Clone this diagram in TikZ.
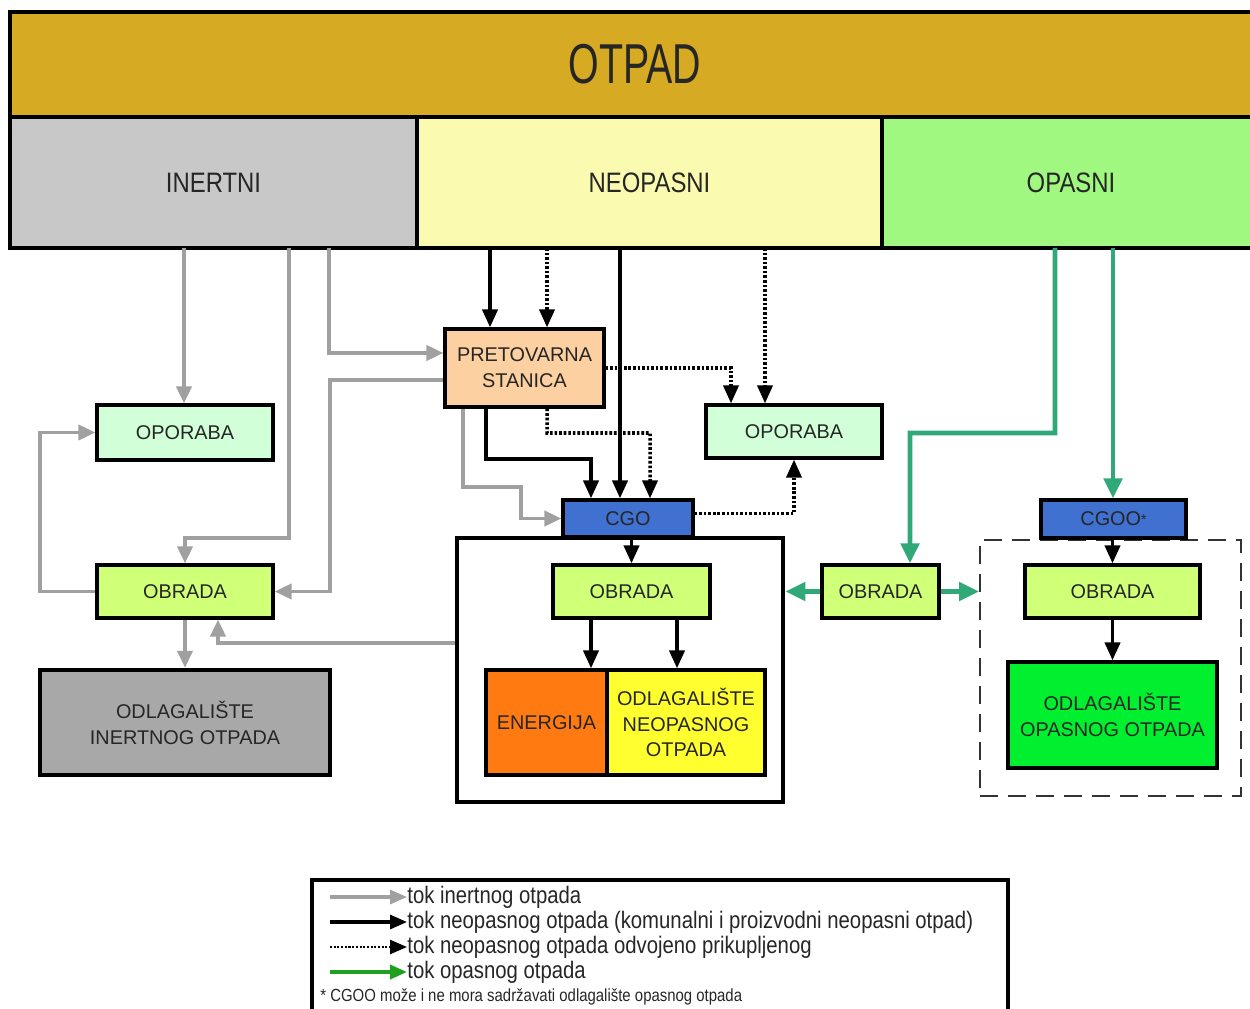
\documentclass[tikz,border=0pt]{standalone}
\usepackage{fontspec}
\setmainfont{Liberation Sans}
\newfontfamily\headfont[FakeStretch=0.7]{Liberation Sans}
\newfontfamily\narrowfont[FakeStretch=0.85]{Liberation Sans}
\usetikzlibrary{positioning}
\usetikzlibrary{arrows.meta}

\definecolor{otpadgold}{HTML}{D6AA22}
\definecolor{inertgray}{HTML}{C8C8C8}
\definecolor{neoyellow}{HTML}{FAFAB0}
\definecolor{opasgreen}{HTML}{A0F880}
\definecolor{mint}{HTML}{D0FFD8}
\definecolor{lime}{HTML}{D0FF78}
\definecolor{peach}{HTML}{FCD0A0}
\definecolor{cgoblue}{HTML}{4070D0}
\definecolor{energyorange}{HTML}{FF7A10}
\definecolor{dumpyellow}{HTML}{FFFF30}
\definecolor{dumpgreen}{HTML}{00F030}
\definecolor{dumpgray}{HTML}{A8A8A8}
\definecolor{flowgray}{HTML}{A0A0A0}
\definecolor{flowteal}{HTML}{30A878}
\definecolor{leggreen}{HTML}{20A020}

\begin{document}
\begin{tikzpicture}[x=0.2mm, y=-0.2mm,
  box/.style={draw, line width=1.8pt, inner sep=0pt, align=center, text=black!85,
    font=\fontsize{11.3}{14.7}\selectfont},
  head/.style={draw, line width=2pt, inner sep=0pt, text=black!85},
  inert/.style={draw=flowgray, line width=2.2pt, -{Triangle[length=3.4mm,width=3mm]}},
  neo/.style={draw=black, line width=2.2pt, -{Triangle[length=3.6mm,width=3mm]}},
  sep/.style={draw=black, line width=2pt, dash pattern=on 1.5pt off 1.1pt,
    -{Triangle[length=3.6mm,width=3mm]}},
  opas/.style={draw=flowteal, line width=2.8pt, -{Triangle[length=4mm,width=3.6mm]}},
  legtext/.style={inner sep=0pt, text=black!85, font=\narrowfont\fontsize{13.6}{15}\selectfont},
  legarrow/.style={line width=1.8pt, -{Triangle[length=3.4mm,width=2.8mm]}},
  node distance=5mm]
\useasboundingbox (0,0) rectangle (1250,1009);

\node(otpad)[head, fill=otpadgold, minimum width=250mm, minimum height=21mm,
  font=\headfont\fontsize{32}{36}\selectfont] at (635,64.5) {OTPAD};
\node(inertni)[head, fill=inertgray, minimum width=81.4mm, minimum height=26.2mm,
  font=\narrowfont\fontsize{16}{18}\selectfont] at (213.5,182.5) {INERTNI};
\node(neopasni)[head, fill=neoyellow, minimum width=93mm, minimum height=26.2mm,
  font=\narrowfont\fontsize{16}{18}\selectfont] at (649.5,182.5) {NEOPASNI};
\node(opasni)[head, fill=opasgreen, minimum width=75.6mm, minimum height=26.2mm,
  font=\narrowfont\fontsize{16}{18}\selectfont] at (1071,182.5) {OPASNI};

\node(bigbox)[draw, line width=2.8pt, minimum width=65.2mm, minimum height=52.8mm] at (620,670) {};
\node(dashbox)[draw=black!80, line width=1.1pt, dash pattern=on 3.6mm off 2mm,
  minimum width=52.2mm, minimum height=51.2mm] at (1110.5,668) {};

\node(oporabaL)[box, fill=mint, minimum width=35.2mm, minimum height=11mm] at (185,432.5) {OPORABA};
\node(obradaL)[box, fill=lime, minimum width=35.2mm, minimum height=10.6mm] at (185,591.5) {OBRADA};
\node(odlagInert)[box, fill=dumpgray, line width=2.5pt, minimum width=58mm, minimum height=21mm]
  at (185,722.5) {ODLAGALIŠTE\\INERTNOG OTPADA};

\node(pretovarna)[box, fill=peach, minimum width=31.8mm, minimum height=15.6mm]
  at (524.5,368) {PRETOVARNA\\STANICA};
\node(oporabaM)[box, fill=mint, minimum width=35.2mm, minimum height=10.6mm] at (794,431.5) {OPORABA};
\node(cgo)[box, fill=cgoblue, minimum width=26mm, minimum height=7.4mm] at (628,518.5) {CGO};
\node(obradaM)[box, fill=lime, minimum width=31.4mm, minimum height=10.6mm] at (631.5,591.5) {OBRADA};
\node(energija)[box, fill=energyorange, minimum width=24.2mm, minimum height=21mm] at (546.5,722.5) {ENERGIJA};
\node(odlagNeo)[box, fill=dumpyellow, minimum width=31.6mm, minimum height=21mm]
  at (686,722.5) {ODLAGALIŠTE\\NEOPASNOG\\OTPADA};

\node(obradaR)[box, fill=lime, minimum width=23.4mm, minimum height=10.6mm] at (880.5,591.5) {OBRADA};
\node(cgoo)[box, fill=cgoblue, minimum width=29mm, minimum height=7.6mm]
  at (1113.5,519) {CGOO\raisebox{0.1ex}{\footnotesize *}};
\node(obradaRR)[box, fill=lime, minimum width=35mm, minimum height=10.6mm] at (1112.5,591.5) {OBRADA};
\node(odlagOpas)[box, fill=dumpgreen, minimum width=41.8mm, minimum height=21.2mm]
  at (1112.5,715) {ODLAGALIŠTE\\OPASNOG OTPADA};

\coordinate (i1) at (184,248);
\coordinate (i2) at (289,248);
\coordinate (i3) at (329,248);
\coordinate (n1) at (490,248);
\coordinate (n2) at (547,248);
\coordinate (n3) at (620,248);
\coordinate (n4) at (765,248);
\coordinate (o1) at (1055,248);
\coordinate (o2) at (1113,248);

% inertni
\draw[inert] (i1) -- (i1 |- oporabaL.north);
\draw[inert] (i2) -- (289,538) -| (obradaL.north);
\draw[inert] (i3) |- ([yshift=3mm]pretovarna.west);
\draw[inert] ([yshift=-2.4mm]pretovarna.west) -| (330,591.5) -- (obradaL.east);
\draw[inert] (obradaL.west) -| (40,432.5) -- (oporabaL.west);
\draw[inert] (obradaL.south) -- (odlagInert.north);
\draw[inert] ([yshift=5.4mm]bigbox.west) -| ([xshift=6.6mm]obradaL.south);
\draw[inert] ([xshift=-12.3mm]pretovarna.south) |- (521,487) |- (cgo.west);

% neopasni
\draw[neo] (n1) -- (n1 |- pretovarna.north);
\draw[sep] (n2) -- (n2 |- pretovarna.north);
\draw[neo] (n3) -- (n3 |- cgo.north);
\draw[sep] (n4) -- (n4 |- oporabaM.north);
\draw[sep] (pretovarna.east) -| ([xshift=-12.6mm]oporabaM.north);
\draw[neo] ([xshift=-7.7mm]pretovarna.south) |- (591,459) -- ([xshift=-7.4mm]cgo.north);
\draw[sep] ([xshift=4.5mm]pretovarna.south) |- (650,433) -- ([xshift=4.4mm]cgo.north);
\draw[sep] ([yshift=1mm]cgo.east) -| (oporabaM.south);
\draw[neo] (cgo.south -| obradaM.north) -- (obradaM.north);
\draw[neo] ([xshift=-8.1mm]obradaM.south) -- ([xshift=-8.1mm]obradaM.south |- energija.north);
\draw[neo] ([xshift=9.1mm]obradaM.south) -- ([xshift=9.1mm]obradaM.south |- odlagNeo.north);

% opasni
\draw[opas] (o1) |- (910,433) -- ([xshift=5.9mm]obradaR.north);
\draw[opas] (o2) -- (o2 |- cgoo.north);
\draw[opas] (obradaR.west) -- (obradaR.west -| bigbox.east);
\draw[opas] (obradaR.east) -- (obradaR.east -| dashbox.west);
\draw[neo] (cgoo.south -| obradaRR.north) -- (obradaRR.north);
\draw[neo] (obradaRR.south) -- (odlagOpas.north);

% legenda
\node(legend)[draw, line width=1.8pt, minimum width=139.2mm, minimum height=26.4mm] at (660,946) {};
\node(leg1)[legtext, anchor=west] at (407,897) {tok inertnog otpada};
\node(leg2)[legtext, below=of leg1.west, anchor=west] {tok neopasnog otpada (komunalni i proizvodni neopasni otpad)};
\node(leg3)[legtext, below=of leg2.west, anchor=west] {tok neopasnog otpada odvojeno prikupljenog};
\node(leg4)[legtext, below=of leg3.west, anchor=west] {tok opasnog otpada};
\node(note)[inner sep=0pt, anchor=west, text=black!85, font=\narrowfont\fontsize{10}{11}\selectfont]
  at (320,997) {* CGOO može i ne mora sadržavati odlagalište opasnog otpada};

\draw[legarrow, draw=flowgray] ([xshift=-15.4mm]leg1.west) -- (leg1.west);
\draw[legarrow, draw=black] ([xshift=-15.4mm]leg2.west) -- (leg2.west);
\draw[legarrow, draw=black, line width=1.4pt, dash pattern=on 1.2pt off 0.9pt]
  ([xshift=-15.4mm]leg3.west) -- (leg3.west);
\draw[legarrow, draw=leggreen, line width=2.2pt] ([xshift=-15.4mm]leg4.west) -- (leg4.west);
\end{tikzpicture}
\end{document}
